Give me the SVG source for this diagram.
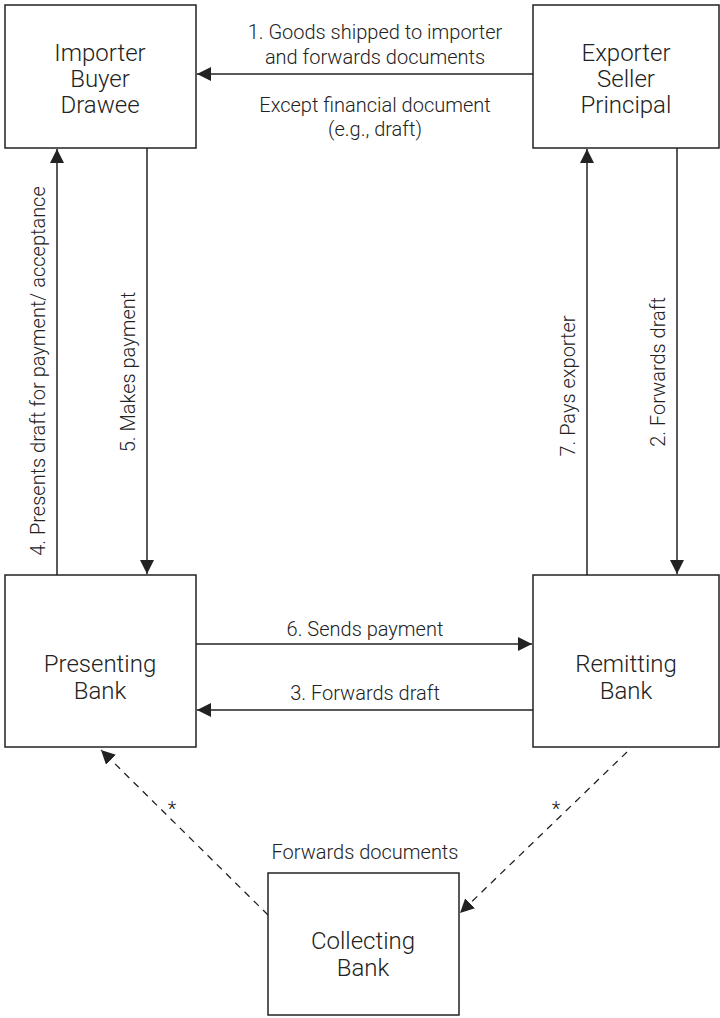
<svg xmlns="http://www.w3.org/2000/svg" width="720" height="1018" viewBox="0 0 720 1018">
<style>
.box{fill:#fff;stroke:#222;stroke-width:1.5}
.t{font-family:Roboto,"Liberation Sans",Arial,sans-serif;font-weight:300;font-size:24px;fill:#222;text-anchor:middle}
.l{font-family:Roboto,"Liberation Sans",Arial,sans-serif;font-weight:300;font-size:20px;fill:#222;text-anchor:middle}
.c{fill:none;stroke:#222;stroke-width:1.5}
.d{fill:none;stroke:#222;stroke-width:1.3;stroke-dasharray:7,6}
</style>
<defs>
<marker id="ah" viewBox="0 0 10 10" refX="10" refY="5" markerWidth="14" markerHeight="14" markerUnits="userSpaceOnUse" orient="auto">
<path d="M0,0 L10,5 L0,10 z" fill="#222"/>
</marker>
</defs>
<rect width="720" height="1018" fill="#fff"/>
<g id="connectors">
<line class="c" x1="533" y1="74" x2="197" y2="74" marker-end="url(#ah)"/>
<line class="c" x1="57" y1="575" x2="57" y2="149" marker-end="url(#ah)"/>
<line class="c" x1="147" y1="148" x2="147" y2="574" marker-end="url(#ah)"/>
<line class="c" x1="587" y1="575" x2="587" y2="149" marker-end="url(#ah)"/>
<line class="c" x1="677" y1="148" x2="677" y2="574" marker-end="url(#ah)"/>
<line class="c" x1="196" y1="644" x2="532" y2="644" marker-end="url(#ah)"/>
<line class="c" x1="533" y1="710" x2="197" y2="710" marker-end="url(#ah)"/>
<line class="d" x1="268" y1="915" x2="101" y2="750" marker-end="url(#ah)"/>
<line class="d" x1="627" y1="752" x2="460" y2="913" marker-end="url(#ah)"/>
<text class="l" x="375" y="39">1. Goods shipped to importer</text>
<text class="l" x="375" y="64">and forwards documents</text>
<text class="l" x="375" y="112">Except financial document</text>
<text class="l" x="375" y="136">(e.g., draft)</text>
<text class="l" transform="translate(45,371) rotate(-90)">4. Presents draft for payment/ acceptance</text>
<text class="l" transform="translate(135,372) rotate(-90)">5. Makes payment</text>
<text class="l" transform="translate(575,386) rotate(-90)">7. Pays exporter</text>
<text class="l" transform="translate(665,372) rotate(-90)">2. Forwards draft</text>
<text class="l" x="365" y="636">6. Sends payment</text>
<text class="l" x="365" y="700">3. Forwards draft</text>
<text class="l" x="172" y="816">*</text>
<text class="l" x="556" y="816">*</text>
<text class="l" x="365" y="859">Forwards documents</text>
</g>
<g id="importer">
<rect class="box" x="5" y="5" width="191" height="143"/>
<text class="t" x="100" y="61">Importer</text>
<text class="t" x="100" y="87">Buyer</text>
<text class="t" x="100" y="113">Drawee</text>
</g>
<g id="exporter">
<rect class="box" x="533" y="5" width="186" height="143"/>
<text class="t" x="626" y="61">Exporter</text>
<text class="t" x="626" y="87">Seller</text>
<text class="t" x="626" y="113">Principal</text>
</g>
<g id="presenting">
<rect class="box" x="5" y="575" width="191" height="172"/>
<text class="t" x="100" y="672">Presenting</text>
<text class="t" x="100" y="699">Bank</text>
</g>
<g id="remitting">
<rect class="box" x="533" y="575" width="186" height="172"/>
<text class="t" x="626" y="672">Remitting</text>
<text class="t" x="626" y="699">Bank</text>
</g>
<g id="collecting">
<rect class="box" x="268" y="873" width="191" height="142"/>
<text class="t" x="363" y="949">Collecting</text>
<text class="t" x="363" y="976">Bank</text>
</g>
</svg>
